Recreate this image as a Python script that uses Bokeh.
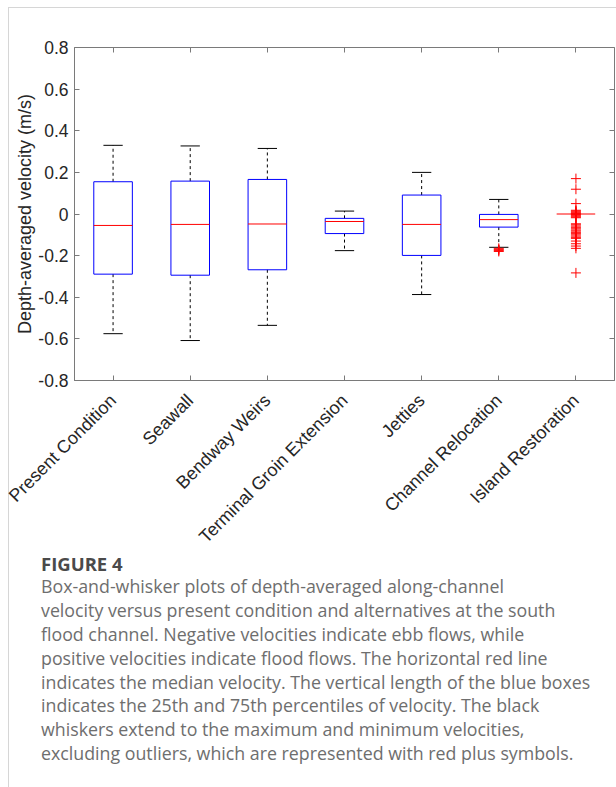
import numpy as np
from math import pi
from bokeh.plotting import figure
from bokeh.models import (Range1d, FixedTicker, LinearAxis, ColumnDataSource, Div,
                          CDSView, BooleanFilter)
from bokeh.layouts import column
from bokeh.embed import file_html
from bokeh.resources import INLINE

# ---------------- data ----------------
cats = ["Present Condition", "Seawall", "Bendway Weirs", "Terminal Groin Extension",
        "Jetties", "Channel Relocation", "Island Restoration"]
upper_whisker = [0.330, 0.327, 0.315, 0.014, 0.200, 0.070, 0.0]
q3 = [0.155, 0.158, 0.166, -0.021, 0.091, -0.002, 0.0]
median = [-0.055, -0.050, -0.048, -0.036, -0.050, -0.027, 0.0]
q1 = [-0.289, -0.294, -0.268, -0.094, -0.199, -0.063, 0.0]
lower_whisker = [-0.575, -0.608, -0.535, -0.176, -0.387, -0.160, 0.0]

channel_outliers = [-0.165, -0.170, -0.175, -0.180]
island_outliers = [0.170, 0.119, 0.050, 0.018, 0.014, 0.010, 0.006, 0.002, -0.002,
                   -0.006, -0.010, -0.014, -0.018, -0.047, -0.052, -0.058, -0.064,
                   -0.071, -0.077, -0.082, -0.088, -0.093, -0.100, -0.106, -0.112,
                   -0.117, -0.130, -0.143, -0.154, -0.165, -0.283]

ytick_values = [-0.8, -0.6, -0.4, -0.2, 0.0, 0.2, 0.4, 0.6, 0.8]
ytick_labels = ["-0.8", "-0.6", "-0.4", "-0.2", "0", "0.2", "0.4", "0.6", "0.8"]
y_label = "Depth-averaged velocity (m/s)"

caption_title = "FIGURE 4"
caption_lines = [
    "Box-and-whisker plots of depth-averaged along-channel",
    "velocity versus present condition and alternatives at the south",
    "flood channel. Negative velocities indicate ebb flows, while",
    "positive velocities indicate flood flows. The horizontal red line",
    "indicates the median velocity. The vertical length of the blue boxes",
    "indicates the 25th and 75th percentiles of velocity. The black",
    "whiskers extend to the maximum and minimum velocities,",
    "excluding outliers, which are represented with red plus symbols.",
]

# ---------------- styles ----------------
AX_GRAY = "#7a7a7a"
TXT = "#262626"
TICK_FONT = "17.5px"
FONT = "Liberation Sans"
BOX_W = 0.5
CAP_W = 0.25
PAGE_LINE = "#d6d6d6"
W = 616
FRAME_BOTTOM = 380
TOP_H = 556
CAP_H = 787 - TOP_H

pos = np.arange(1, len(cats) + 1, dtype=float)

src = ColumnDataSource(dict(
    x=pos, left=pos - BOX_W / 2, right=pos + BOX_W / 2,
    cl=pos - CAP_W / 2, cr=pos + CAP_W / 2,
    up=upper_whisker, q3=q3, med=median, q1=q1, lo=lower_whisker,
))
# boxes / whiskers with zero extent (all values equal) are hidden beneath the median in the original
spread = CDSView(filter=BooleanFilter([u > l for u, l in zip(upper_whisker, lower_whisker)]))

out_x = [pos[cats.index("Channel Relocation")]] * len(channel_outliers) + \
        [pos[cats.index("Island Restoration")]] * len(island_outliers)
out_y = channel_outliers + island_outliers

p = figure(width=W, height=TOP_H,
           x_range=Range1d(0.5, len(cats) + 0.5), y_range=Range1d(-0.8, 0.8),
           output_backend="svg", toolbar_location=None,
           min_border_left=74, min_border_right=2, min_border_top=47,
           min_border_bottom=TOP_H - FRAME_BOTTOM,
           background_fill_color="white", border_fill_color=None)
p.styles = {
    "background": (f"linear-gradient({PAGE_LINE},{PAGE_LINE}) 8px 7px / 1px 100% no-repeat, "
                   f"linear-gradient({PAGE_LINE},{PAGE_LINE}) 8px 7px / 100% 1px no-repeat, white")
}
p.xgrid.visible = False
p.ygrid.visible = False
p.outline_line_color = AX_GRAY
p.outline_line_width = 1

xa = p.xaxis[0]
xa.ticker = FixedTicker(ticks=list(pos))
xa.major_label_overrides = {float(v): c for v, c in zip(pos, cats)}
xa.major_label_orientation = pi / 4
xa.major_label_text_font = FONT
xa.major_label_text_font_size = "18px"
xa.major_label_text_color = TXT
xa.major_label_standoff = 17
xa.major_tick_in = 5
xa.major_tick_out = 0
xa.major_tick_line_color = AX_GRAY
xa.minor_tick_line_color = None
xa.axis_line_color = AX_GRAY

ya = p.yaxis[0]
ya.ticker = FixedTicker(ticks=ytick_values)
ya.major_label_overrides = {v: l for v, l in zip(ytick_values, ytick_labels)}
ya.major_label_text_font = FONT
ya.major_label_text_font_size = TICK_FONT
ya.major_label_text_color = TXT
ya.major_label_standoff = 6
ya.major_tick_in = 5
ya.major_tick_out = 0
ya.major_tick_line_color = AX_GRAY
ya.minor_tick_line_color = None
ya.axis_line_color = AX_GRAY
ya.axis_label = y_label
ya.axis_label_text_font = FONT
ya.axis_label_text_font_size = "18px"
ya.axis_label_text_font_style = "normal"
ya.axis_label_text_color = TXT
ya.axis_label_standoff = 0

for side, ticks in (("right", ytick_values), ("above", list(pos))):
    ax = LinearAxis(ticker=FixedTicker(ticks=ticks), major_label_text_font_size="1px",
                    major_label_text_color=None, major_label_standoff=0,
                    major_tick_in=5, major_tick_out=0, major_tick_line_color=AX_GRAY,
                    minor_tick_line_color=None, axis_line_color=None)
    p.add_layout(ax, side)

# whiskers
p.segment(x0="x", x1="x", y0="q3", y1="up", source=src, view=spread,
          line_color="black", line_width=1, line_dash="3 3")
p.segment(x0="x", x1="x", y0="q1", y1="lo", source=src, view=spread,
          line_color="black", line_width=1, line_dash="3 3")
# caps
p.segment(x0="cl", x1="cr", y0="up", y1="up", source=src, view=spread, line_color="black", line_width=1)
p.segment(x0="cl", x1="cr", y0="lo", y1="lo", source=src, view=spread, line_color="black", line_width=1)
# boxes
p.quad(left="left", right="right", bottom="q1", top="q3", source=src, view=spread,
       fill_color=None, line_color="#0000ff", line_width=1)
# medians
p.segment(x0="left", x1="right", y0="med", y1="med", source=src, line_color="#ff0000", line_width=1)
# outliers
p.scatter(x=out_x, y=out_y, marker="cross", size=10, line_color="#ff0000", line_width=1)

# ---------------- caption ----------------
caption_html = (
    f'<div style="margin-top:-3px;margin-left:8px;border-left:1px solid {PAGE_LINE};padding-left:32px;'
    f'height:{CAP_H + 3}px;box-sizing:border-box;font-family:\'Open Sans\',sans-serif;'
    f'font-size:17.8px;line-height:23.9px;color:#6e6e6e;white-space:nowrap;">'
    f'<div style="font-weight:700;font-size:18.5px;color:#4a4a4a;line-height:21.9px;">{caption_title}</div>'
    + "".join(f"<div>{line}</div>" for line in caption_lines)
    + "</div>"
)
cap = Div(text=caption_html, width=W, height=CAP_H, styles={"margin": "0", "padding": "0"})

layout = column(p, cap, spacing=0)
open("out.html", "w").write(file_html(layout, INLINE))
